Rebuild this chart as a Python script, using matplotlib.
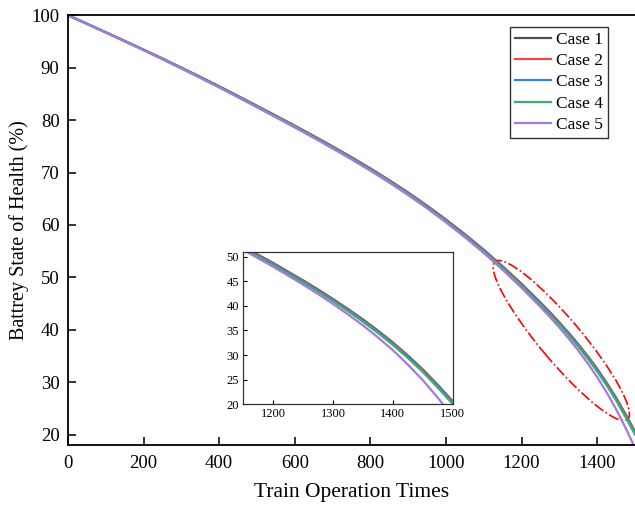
#!/usr/bin/env python3
"""Battery state-of-health decline for five operating cases, with a zoomed inset."""

import matplotlib

matplotlib.use("Agg")
import matplotlib.pyplot as plt
from matplotlib.patches import Ellipse
from matplotlib.transforms import ScaledTranslation

# train operation times (cycles)
cycles = [0, 50, 100, 150, 200, 250, 300, 350, 400, 450, 500, 550, 600, 650, 700, 750,
          800, 850, 900, 950, 1000, 1050, 1100, 1150, 1200, 1250, 1275, 1300, 1325, 1350,
          1375, 1400, 1425, 1450, 1475, 1500]

case1 = [100.0, 98.38, 96.75, 95.10, 93.43, 91.73, 90.00, 88.24, 86.44, 84.60, 82.72, 80.84,
         78.93, 76.98, 74.98, 72.92, 70.78, 68.54, 66.18, 63.68, 61.03, 58.23, 55.26, 52.11,
         48.76, 45.21, 43.36, 41.41, 39.38, 37.26, 34.98, 32.56, 29.90, 27.06, 23.90, 20.56]
case2 = [100.0, 98.37, 96.74, 95.08, 93.41, 91.71, 89.97, 88.21, 86.40, 84.56, 82.67, 80.78,
         78.87, 76.92, 74.91, 72.85, 70.70, 68.46, 66.09, 63.59, 60.93, 58.12, 55.15, 51.99,
         48.64, 45.08, 43.23, 41.27, 39.24, 37.12, 34.84, 32.42, 29.75, 26.91, 23.75, 20.41]
case3 = [100.0, 98.37, 96.73, 95.07, 93.39, 91.68, 89.94, 88.17, 86.36, 84.51, 82.62, 80.73,
         78.81, 76.85, 74.84, 72.77, 70.62, 68.37, 66.00, 63.49, 60.83, 58.02, 55.04, 51.88,
         48.52, 44.96, 43.11, 41.15, 39.12, 36.99, 34.71, 32.28, 29.62, 26.77, 23.61, 20.26]
case4 = [100.0, 98.37, 96.72, 95.06, 93.37, 91.66, 89.91, 88.14, 86.32, 84.47, 82.57, 80.68,
         78.75, 76.79, 74.77, 72.70, 70.54, 68.29, 65.91, 63.40, 60.73, 57.91, 54.91, 51.74,
         48.36, 44.79, 42.92, 40.96, 38.92, 36.79, 34.49, 32.06, 29.39, 26.54, 23.36, 20.01]
case5 = [100.0, 98.35, 96.69, 95.01, 93.31, 91.58, 89.82, 88.03, 86.20, 84.33, 82.42, 80.52,
         78.58, 76.61, 74.58, 72.50, 70.33, 68.07, 65.68, 63.16, 60.48, 57.65, 54.64, 51.43,
         48.00, 44.35, 42.43, 40.41, 38.28, 36.04, 33.60, 30.98, 28.05, 24.86, 21.30, 17.46]

labels = ["Case 1", "Case 2", "Case 3", "Case 4", "Case 5"]
colors = ["#505050", "#F04848", "#3A80E0", "#3AAE6E", "#A878E0"]

plt.rcParams.update({
    "font.family": ["Liberation Serif", "DejaVu Serif"],
})

fig = plt.figure(figsize=(6.35, 5.07), dpi=100)
ax = fig.add_axes([0.107, 0.122, 0.893, 0.848])

series = [case1, case2, case3, case4, case5]
for ys, lab, col in zip(series, labels, colors):
    ax.plot(cycles, ys, color=col, lw=1.6, label=lab)

ax.set_xlim(0, 1500)
ax.set_ylim(18, 100)
ax.set_xticks(range(0, 1401, 200))
ax.set_yticks(range(20, 101, 10))
ax.tick_params(direction="in", length=6, width=1.1, labelsize=13.5, pad=6)
ax.tick_params(axis="x", pad=7)
ax.spines["right"].set_visible(False)
for side in ("top", "left", "bottom"):
    ax.spines[side].set_linewidth(1.3)
ax.set_xlabel("Train Operation Times", fontsize=15.5, labelpad=8)
ax.set_ylabel("Battrey State of Health (%)", fontsize=14.5)
ax.yaxis.set_label_coords(-0.068, 0.5)

leg = ax.legend(loc="upper right", bbox_to_anchor=(0.952, 0.972), fontsize=12.5,
                frameon=True, fancybox=False, handlelength=2.1, handletextpad=0.3,
                labelspacing=0.3, borderpad=0.25, borderaxespad=0.0)
leg.get_frame().set_edgecolor("black")
leg.get_frame().set_linewidth(1.0)

# dash-dot ellipse marking the zoomed region (size in inches, centred in data coords)
ell = Ellipse((0, 0), 2.06, 0.42, angle=-50, fill=False, edgecolor="red",
              linestyle="-.", lw=1.2, clip_on=False,
              transform=fig.dpi_scale_trans + ScaledTranslation(1305, 37.95, ax.transData))
ax.add_artist(ell)

# inset
axin = fig.add_axes([0.383, 0.203, 0.330, 0.300])
for ys, col in zip(series, colors):
    axin.plot(cycles, ys, color=col, lw=1.6)
axin.set_xlim(1150, 1500)
axin.set_ylim(20, 51)
axin.set_xticks([1200, 1300, 1400, 1500])
axin.set_yticks(range(20, 51, 5))
axin.tick_params(direction="in", length=3, width=0.8, labelsize=9, pad=3)
for side in axin.spines.values():
    side.set_linewidth(0.9)
    side.set_color("#333333")

fig.savefig("out.png", dpi=100)
